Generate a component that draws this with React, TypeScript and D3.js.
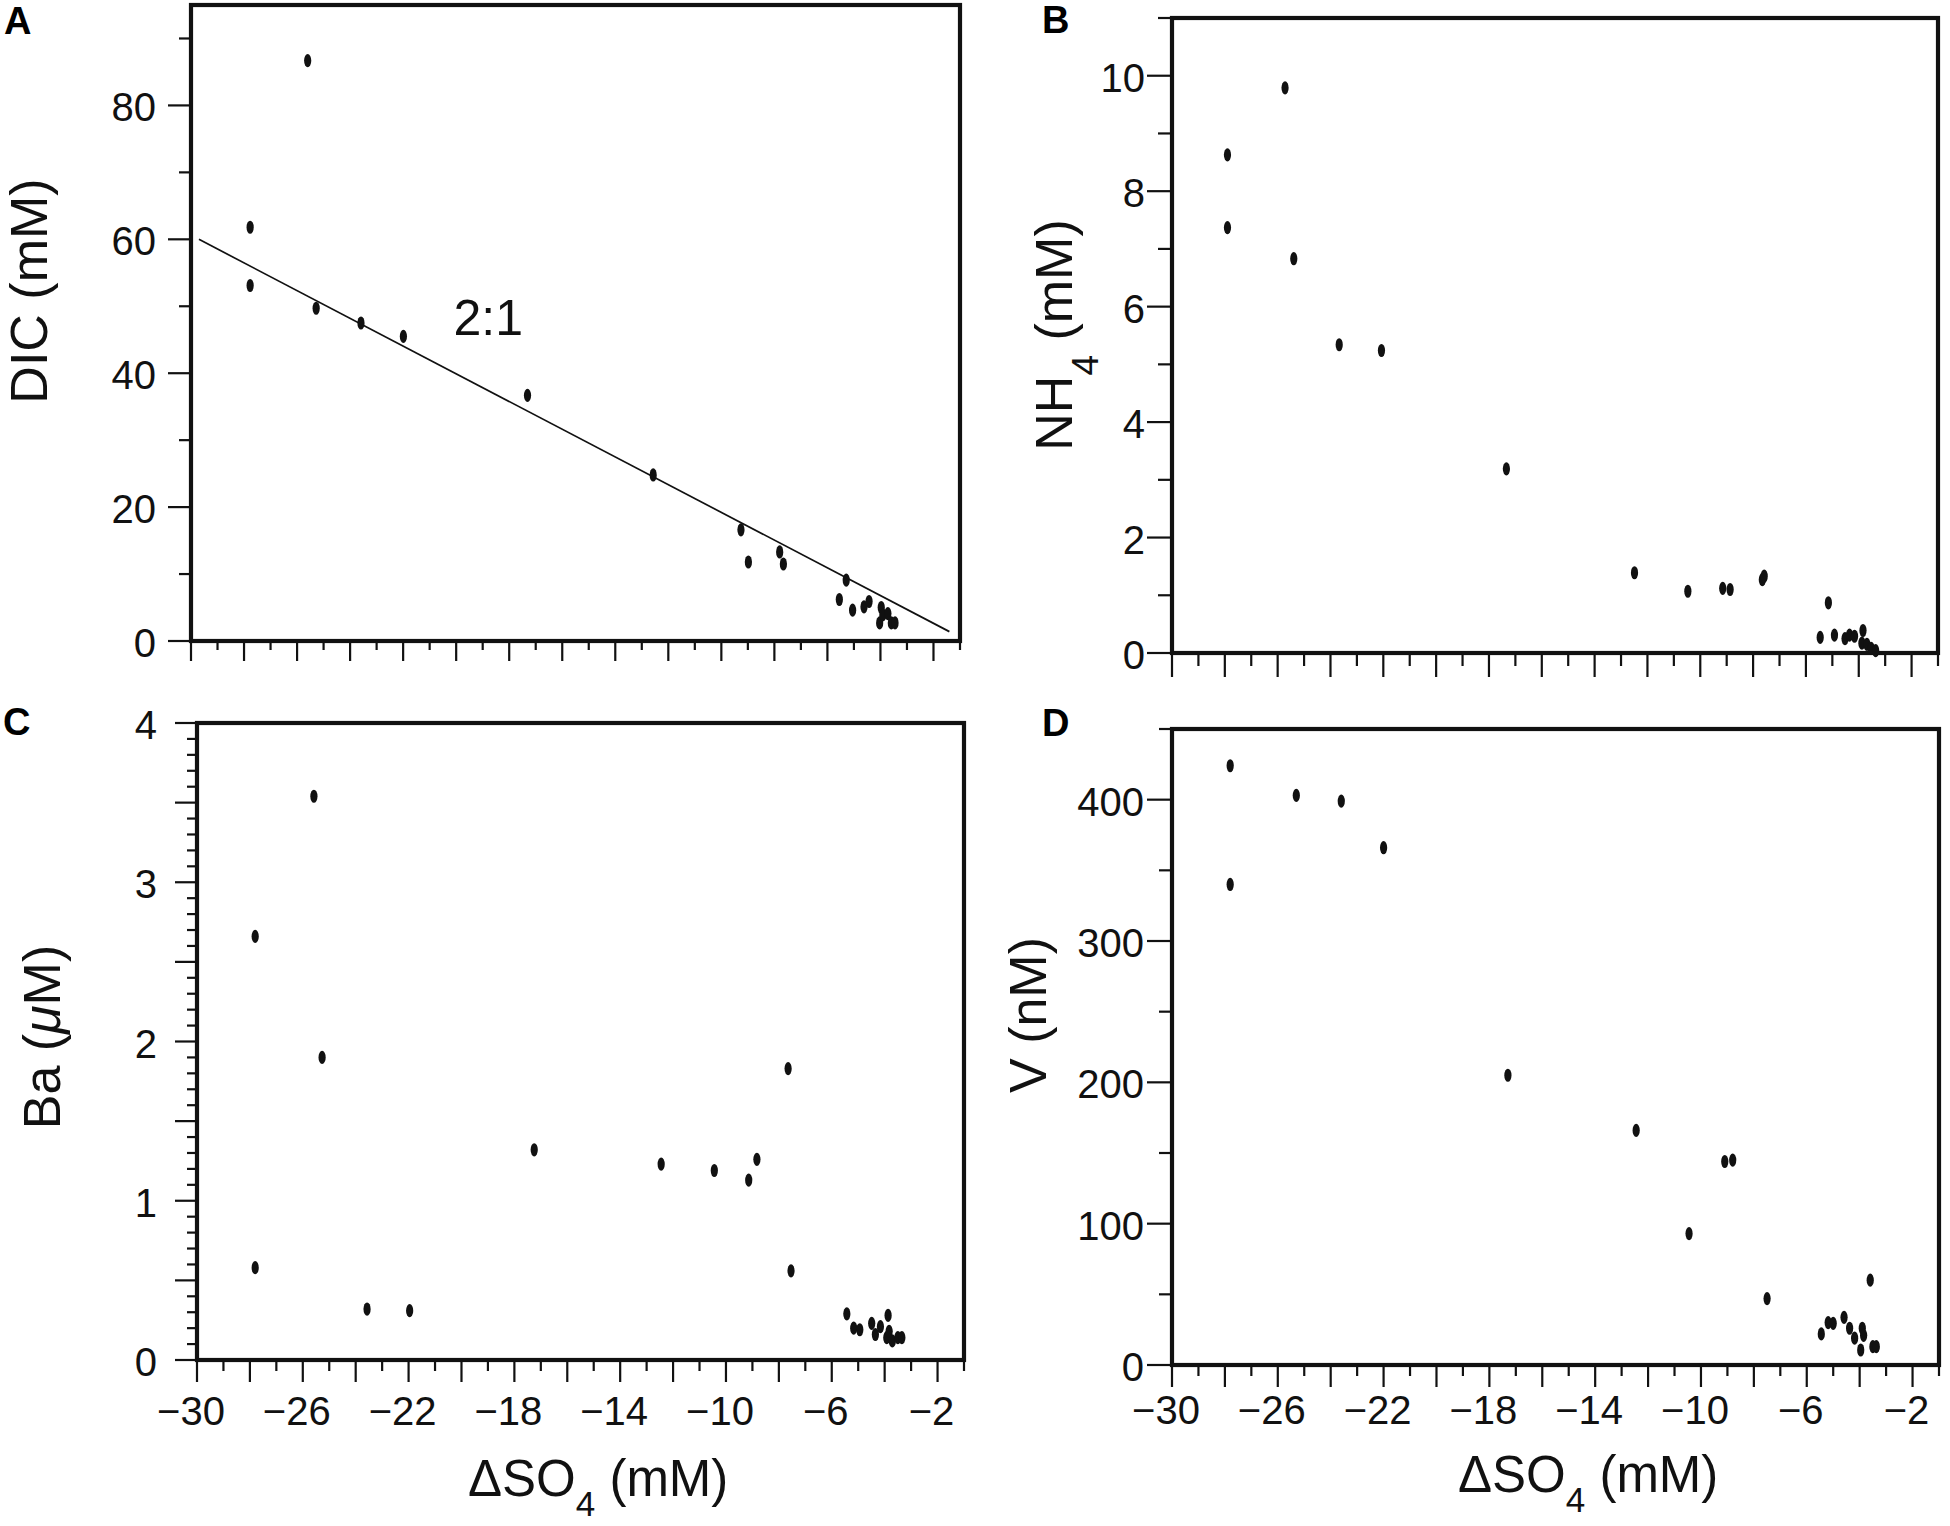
import React, { useEffect, useRef } from "react";
import * as d3 from "d3";

// ΔSO4 range shared by all four panels
const xDomain: [number, number] = [-30, -1];
const xTickLabels = [-30, -26, -22, -18, -14, -10, -6, -2];

// Panel A: DIC vs ΔSO4
const dicX = [-27.77, -27.77, -25.6, -25.28, -23.59, -21.99, -17.31, -12.57, -9.26, -8.98, -7.8, -7.66, -5.29, -5.55, -5.05, -4.62, -4.43, -3.97, -4.03, -3.91, -3.72, -3.59, -3.45];
const dicY = [61.8, 53.1, 86.7, 49.7, 47.5, 45.5, 36.7, 24.8, 16.6, 11.8, 13.3, 11.5, 9.1, 6.2, 4.6, 5.1, 5.9, 5.0, 2.7, 3.9, 4.1, 2.7, 2.7];
// 2:1 reference line
const lineX = [-29.7, -1.4];
const lineY = [60, 1.4];

// Panel B: NH4
const nh4X = [-27.9, -27.9, -25.72, -25.39, -23.67, -22.07, -17.34, -12.49, -10.47, -9.15, -8.87, -7.65, -7.58, -5.15, -5.46, -4.92, -4.52, -4.35, -4.16, -3.84, -3.88, -3.69, -3.53, -3.36];
const nh4Y = [8.63, 7.37, 9.79, 6.83, 5.34, 5.24, 3.19, 1.39, 1.07, 1.12, 1.1, 1.27, 1.33, 0.87, 0.27, 0.31, 0.25, 0.31, 0.29, 0.39, 0.17, 0.15, 0.08, 0.04];

// Panel C: Ba
const baX = [-27.8, -27.8, -25.58, -25.27, -23.57, -21.96, -17.25, -12.45, -10.44, -9.14, -8.83, -7.65, -7.54, -5.43, -5.17, -4.94, -4.49, -4.35, -4.16, -3.87, -3.92, -3.83, -3.71, -3.5, -3.35];
const baY = [2.66, 0.58, 3.54, 1.9, 0.32, 0.31, 1.32, 1.23, 1.19, 1.13, 1.26, 1.83, 0.56, 0.29, 0.2, 0.19, 0.23, 0.16, 0.21, 0.28, 0.14, 0.18, 0.12, 0.14, 0.14];

// Panel D: V
const vX = [-27.8, -27.8, -25.3, -23.6, -22.0, -17.3, -12.45, -10.45, -9.1, -8.8, -7.5, -5.45, -5.19, -5.0, -4.59, -4.38, -4.19, -3.9, -3.96, -3.85, -3.6, -3.5, -3.37];
const vY = [424, 340, 403, 399, 366, 205, 166, 93, 144, 145, 47, 22, 30, 29.5, 33.7, 26, 19, 26, 10.6, 21, 60, 13, 13];

const FONT = "'Liberation Sans', Arial, Helvetica, sans-serif";

interface Tick {
  v: number;
  len: number;
  label?: string;
}

interface Panel {
  id: string;
  left: number;
  right: number;
  top: number;
  bottom: number;
  yDomain: [number, number];
  xs: number[];
  ys: number[];
  yTicks: Tick[];
  yLabelGap: number;
  xLong: number;
  xShort: number;
  xLabelBaseline?: number;
  letter: [number, number];
  title: { x: number; y: number; parts: [string, string][] };
  xTitle?: { x: number; y: number };
}

const makeTicks = (n: number, step: number, kind: (i: number) => "label" | "long" | "short", long: number, short: number, fmt = (v: number) => String(v)): Tick[] =>
  d3.range(0, n + 1).map((i) => {
    const v = +(i * step).toFixed(4);
    const k = kind(i);
    return { v, len: k === "short" ? short : long, label: k === "label" ? fmt(v) : undefined };
  });

const panels: Panel[] = [
  {
    id: "A", left: 191, right: 960, top: 5, bottom: 641, yDomain: [0, 95], xs: dicX, ys: dicY,
    yTicks: makeTicks(9, 10, (i) => (i % 2 === 0 ? "label" : "short"), 23, 12),
    yLabelGap: 35, xLong: 20, xShort: 9, letter: [4, 34],
    title: { x: 47, y: 291, parts: [["DIC (mM)", "n"]] },
  },
  {
    id: "B", left: 1172, right: 1938, top: 18, bottom: 653, yDomain: [0, 11], xs: nh4X, ys: nh4Y,
    yTicks: makeTicks(11, 1, (i) => (i % 2 === 0 ? "label" : "short"), 25, 14),
    yLabelGap: 27, xLong: 24, xShort: 13, letter: [1042, 33],
    title: { x: 1072, y: 335, parts: [["NH", "n"], ["4", "s"], [" (mM)", "n"]] },
  },
  {
    id: "C", left: 197, right: 964, top: 723, bottom: 1360, yDomain: [0, 4], xs: baX, ys: baY,
    yTicks: makeTicks(40, 0.1, (i) => (i % 10 === 0 ? "label" : i % 5 === 0 ? "long" : "short"), 22, 10),
    yLabelGap: 40, xLong: 22, xShort: 11, xLabelBaseline: 1425, letter: [3, 735],
    title: { x: 60, y: 1037, parts: [["Ba (", "n"], ["μ", "i"], ["M)", "n"]] },
    xTitle: { x: 468, y: 1496 },
  },
  {
    id: "D", left: 1172, right: 1939, top: 729, bottom: 1365, yDomain: [0, 450], xs: vX, ys: vY,
    yTicks: makeTicks(9, 50, (i) => (i % 2 === 0 ? "label" : "short"), 25, 13),
    yLabelGap: 28, xLong: 22, xShort: 11, xLabelBaseline: 1424, letter: [1042, 736],
    title: { x: 1046, y: 1015, parts: [["V (nM)", "n"]] },
    xTitle: { x: 1458, y: 1492 },
  },
];

const App: React.FC = () => {
  const svgRef = useRef<SVGSVGElement | null>(null);

  useEffect(() => {
    if (!svgRef.current) return;
    const svg = d3.select(svgRef.current);
    svg.selectAll("*").remove();

    panels.forEach((p) => {
      const x = d3.scaleLinear().domain(xDomain).range([p.left, p.right]);
      const y = d3.scaleLinear().domain(p.yDomain).range([p.bottom, p.top]);
      const g = svg.append("g").attr("font-family", FONT);

      // y ticks + labels
      g.selectAll("line.yt")
        .data(p.yTicks)
        .join("line")
        .attr("x1", (d) => p.left - d.len)
        .attr("x2", p.left)
        .attr("y1", (d) => y(d.v))
        .attr("y2", (d) => y(d.v))
        .attr("stroke", "#111")
        .attr("stroke-width", 2.2);
      g.selectAll("text.yl")
        .data(p.yTicks.filter((d) => d.label))
        .join("text")
        .attr("x", p.left - p.yLabelGap)
        .attr("y", (d) => y(d.v) + 16)
        .attr("text-anchor", "end")
        .attr("font-size", 40)
        .attr("fill", "#111")
        .text((d) => d.label as string);

      // x ticks: long on even values, short on odd
      const xt = d3.range(-30, 0, 1);
      g.selectAll("line.xt")
        .data(xt)
        .join("line")
        .attr("x1", (d) => x(d))
        .attr("x2", (d) => x(d))
        .attr("y1", p.bottom)
        .attr("y2", (d) => p.bottom + (d % 2 === 0 ? p.xLong : p.xShort))
        .attr("stroke", "#111")
        .attr("stroke-width", 2.2);
      if (p.xLabelBaseline) {
        g.selectAll("text.xl")
          .data(xTickLabels)
          .join("text")
          .attr("x", (d) => x(d) - 6)
          .attr("y", p.xLabelBaseline)
          .attr("text-anchor", "middle")
          .attr("font-size", 40)
          .attr("fill", "#111")
          .text((d) => (d < 0 ? "\u2212" + Math.abs(d) : String(d)));
      }

      // frame
      g.append("rect")
        .attr("x", p.left)
        .attr("y", p.top)
        .attr("width", p.right - p.left)
        .attr("height", p.bottom - p.top)
        .attr("fill", "none")
        .attr("stroke", "#111")
        .attr("stroke-width", 4.2);

      // 2:1 line in panel A
      if (p.id === "A") {
        const pts = lineX.map((v, i) => [v, lineY[i]] as [number, number]);
        g.append("path")
          .attr("d", d3.line<[number, number]>().x((d) => x(d[0])).y((d) => y(d[1]))(pts) as string)
          .attr("fill", "none")
          .attr("stroke", "#111")
          .attr("stroke-width", 1.7);
        g.append("text")
          .attr("x", x(-20.1))
          .attr("y", y(45.7))
          .attr("font-size", 50)
          .attr("fill", "#111")
          .text("2:1");
      }

      // points
      g.selectAll("ellipse")
        .data(p.xs.map((v, i) => [v, p.ys[i]]))
        .join("ellipse")
        .attr("cx", (d) => x(d[0]))
        .attr("cy", (d) => y(d[1]))
        .attr("rx", 3.6)
        .attr("ry", 6.6)
        .attr("fill", "#111");

      // panel letter
      g.append("text")
        .attr("x", p.letter[0])
        .attr("y", p.letter[1])
        .attr("font-size", 38)
        .attr("font-weight", "bold")
        .attr("fill", "#000")
        .text(p.id);

      // y title (rotated)
      const yt = g.append("text")
        .attr("transform", `translate(${p.title.x},${p.title.y}) rotate(-90)`)
        .attr("text-anchor", "middle")
        .attr("font-size", 52)
        .attr("fill", "#111");
      let shifted = false;
      p.title.parts.forEach(([t, k]) => {
        const ts = yt.append("tspan").text(t);
        if (k === "s") {
          ts.attr("font-size", 37).attr("dy", 26);
          shifted = true;
        } else if (shifted) {
          ts.attr("dy", -26);
          shifted = false;
        }
        if (k === "i") ts.attr("font-style", "italic");
      });

      // x title
      if (p.xTitle) {
        const xtT = g.append("text")
          .attr("x", p.xTitle.x)
          .attr("y", p.xTitle.y)
          .attr("font-size", 51)
          .attr("fill", "#111");
        xtT.append("tspan").text("\u0394SO");
        xtT.append("tspan").attr("font-size", 35).attr("dy", 20).text("4");
        xtT.append("tspan").attr("dy", -20).text(" (mM)");
      }
    });
  }, []);

  return (
    <svg
      ref={svgRef}
      width={1950}
      height={1526}
      style={{ position: "absolute", left: 0, top: 0, background: "#fff" }}
    />
  );
};

export default App;
